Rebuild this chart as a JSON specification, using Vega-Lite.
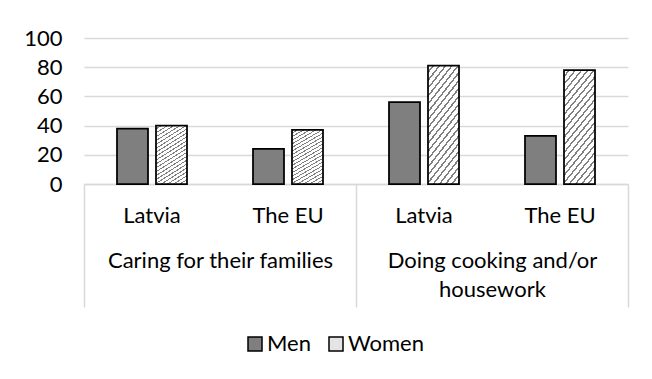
{
  "$schema": "https://vega.github.io/schema/vega-lite/v6.json",
  "width": 544,
  "height": 146,
  "autosize": "none",
  "padding": {"left": 84, "top": 38, "right": 24, "bottom": 195},
  "background": "white",
  "config": {
    "font": "Lato",
    "view": {"stroke": null},
    "axis": {"labelFont": "Lato", "labelFontSize": 22, "labelColor": "#000000", "title": null}
  },
  "data": {
    "values": [
      {"group": "Caring for their families", "country": "Latvia", "slot": "Caring for their families: Latvia", "gender": "Men", "value": 38},
      {"group": "Caring for their families", "country": "Latvia", "slot": "Caring for their families: Latvia", "gender": "Women", "value": 40},
      {"group": "Caring for their families", "country": "The EU", "slot": "Caring for their families: The EU", "gender": "Men", "value": 24},
      {"group": "Caring for their families", "country": "The EU", "slot": "Caring for their families: The EU", "gender": "Women", "value": 37},
      {"group": "Doing cooking and/or housework", "country": "Latvia", "slot": "Doing cooking and/or housework: Latvia", "gender": "Men", "value": 56},
      {"group": "Doing cooking and/or housework", "country": "Latvia", "slot": "Doing cooking and/or housework: Latvia", "gender": "Women", "value": 81},
      {"group": "Doing cooking and/or housework", "country": "The EU", "slot": "Doing cooking and/or housework: The EU", "gender": "Men", "value": 33},
      {"group": "Doing cooking and/or housework", "country": "The EU", "slot": "Doing cooking and/or housework: The EU", "gender": "Women", "value": 78}
    ]
  },
  "layer": [
    {
      "mark": {"type": "bar", "stroke": "#000000", "strokeWidth": 1.75},
      "encoding": {
        "x": {
          "field": "slot", "type": "nominal", "sort": null,
          "scale": {"paddingInner": 0, "paddingOuter": 0},
          "axis": {
            "orient": "bottom", "labelExpr": "split(datum.label, ': ')[1]",
            "ticks": false, "labelAngle": 0, "labelPadding": 21, "labelBaseline": "top",
            "domainColor": "#d9d9d9", "domainWidth": 1.5, "labelLimit": 0, "grid": false
          }
        },
        "xOffset": {
          "field": "gender", "type": "nominal", "sort": null,
          "scale": {"paddingInner": 0.205, "paddingOuter": 0.846}
        },
        "y": {
          "field": "value", "type": "quantitative",
          "scale": {"domain": [0, 100], "nice": false},
          "axis": {
            "values": [0, 20, 40, 60, 80, 100], "domain": false, "ticks": false,
            "labelPadding": 22, "gridColor": "#d9d9d9", "gridWidth": 1.5
          }
        },
        "fill": {
          "field": "gender", "type": "nominal", "sort": null,
          "scale": {"domain": ["Men", "Women"], "range": ["#7f7f7f", "#e4e4e4"]},
          "condition": {
            "test": "datum.gender == 'Women'",
            "value": {
              "gradient": "linear", "x1": 0, "y1": 0, "x2": 0.4, "y2": 1.2,
              "stops": [
                {"offset": 0, "color": "#ffffff"}, {"offset": 0.035, "color": "#ffffff"}, {"offset": 0.035, "color": "#808080"}, {"offset": 0.05, "color": "#808080"},
                {"offset": 0.05, "color": "#ffffff"}, {"offset": 0.085, "color": "#ffffff"}, {"offset": 0.085, "color": "#808080"}, {"offset": 0.1, "color": "#808080"},
                {"offset": 0.1, "color": "#ffffff"}, {"offset": 0.135, "color": "#ffffff"}, {"offset": 0.135, "color": "#808080"}, {"offset": 0.15, "color": "#808080"},
                {"offset": 0.15, "color": "#ffffff"}, {"offset": 0.185, "color": "#ffffff"}, {"offset": 0.185, "color": "#808080"}, {"offset": 0.2, "color": "#808080"},
                {"offset": 0.2, "color": "#ffffff"}, {"offset": 0.235, "color": "#ffffff"}, {"offset": 0.235, "color": "#808080"}, {"offset": 0.25, "color": "#808080"},
                {"offset": 0.25, "color": "#ffffff"}, {"offset": 0.285, "color": "#ffffff"}, {"offset": 0.285, "color": "#808080"}, {"offset": 0.3, "color": "#808080"},
                {"offset": 0.3, "color": "#ffffff"}, {"offset": 0.335, "color": "#ffffff"}, {"offset": 0.335, "color": "#808080"}, {"offset": 0.35, "color": "#808080"},
                {"offset": 0.35, "color": "#ffffff"}, {"offset": 0.385, "color": "#ffffff"}, {"offset": 0.385, "color": "#808080"}, {"offset": 0.4, "color": "#808080"},
                {"offset": 0.4, "color": "#ffffff"}, {"offset": 0.435, "color": "#ffffff"}, {"offset": 0.435, "color": "#808080"}, {"offset": 0.45, "color": "#808080"},
                {"offset": 0.45, "color": "#ffffff"}, {"offset": 0.485, "color": "#ffffff"}, {"offset": 0.485, "color": "#808080"}, {"offset": 0.5, "color": "#808080"},
                {"offset": 0.5, "color": "#ffffff"}, {"offset": 0.535, "color": "#ffffff"}, {"offset": 0.535, "color": "#808080"}, {"offset": 0.55, "color": "#808080"},
                {"offset": 0.55, "color": "#ffffff"}, {"offset": 0.585, "color": "#ffffff"}, {"offset": 0.585, "color": "#808080"}, {"offset": 0.6, "color": "#808080"},
                {"offset": 0.6, "color": "#ffffff"}, {"offset": 0.635, "color": "#ffffff"}, {"offset": 0.635, "color": "#808080"}, {"offset": 0.65, "color": "#808080"},
                {"offset": 0.65, "color": "#ffffff"}, {"offset": 0.685, "color": "#ffffff"}, {"offset": 0.685, "color": "#808080"}, {"offset": 0.7, "color": "#808080"},
                {"offset": 0.7, "color": "#ffffff"}, {"offset": 0.735, "color": "#ffffff"}, {"offset": 0.735, "color": "#808080"}, {"offset": 0.75, "color": "#808080"},
                {"offset": 0.75, "color": "#ffffff"}, {"offset": 0.785, "color": "#ffffff"}, {"offset": 0.785, "color": "#808080"}, {"offset": 0.8, "color": "#808080"},
                {"offset": 0.8, "color": "#ffffff"}, {"offset": 0.835, "color": "#ffffff"}, {"offset": 0.835, "color": "#808080"}, {"offset": 0.85, "color": "#808080"},
                {"offset": 0.85, "color": "#ffffff"}, {"offset": 0.885, "color": "#ffffff"}, {"offset": 0.885, "color": "#808080"}, {"offset": 0.9, "color": "#808080"},
                {"offset": 0.9, "color": "#ffffff"}, {"offset": 0.935, "color": "#ffffff"}, {"offset": 0.935, "color": "#808080"}, {"offset": 0.95, "color": "#808080"},
                {"offset": 0.95, "color": "#ffffff"}, {"offset": 0.985, "color": "#ffffff"}, {"offset": 0.985, "color": "#808080"}, {"offset": 1, "color": "#808080"}
              ]
            }
          },
          "legend": {
            "orient": "none", "legendX": 160, "legendY": 295, "direction": "horizontal",
            "title": null, "symbolType": "square", "symbolSize": 196,
            "symbolStrokeColor": "#000000", "symbolStrokeWidth": 1.5,
            "labelFont": "Lato", "labelFontSize": 22, "labelColor": "#000000",
            "labelOffset": 1, "columnPadding": 14, "padding": 0
          }
        }
      }
    },
    {
      "mark": {"type": "point", "opacity": 0},
      "encoding": {
        "x": {
          "field": "group", "type": "nominal", "sort": null,
          "scale": {"paddingInner": 0, "paddingOuter": 0},
          "axis": {
            "orient": "bottom", "domain": false, "grid": false,
            "ticks": true, "tickSize": 123, "tickColor": "#d9d9d9", "tickWidth": 1.5,
            "tickBand": "extent",
            "labelAngle": 0, "labelPadding": -57, "labelBaseline": "top",
            "labelLineHeight": 29, "labelLimit": 0,
            "labelExpr": "datum.label == 'Doing cooking and/or housework' ? ['Doing cooking and/or', 'housework'] : datum.label"
          }
        }
      }
    }
  ],
  "resolve": {"scale": {"x": "independent"}}
}
